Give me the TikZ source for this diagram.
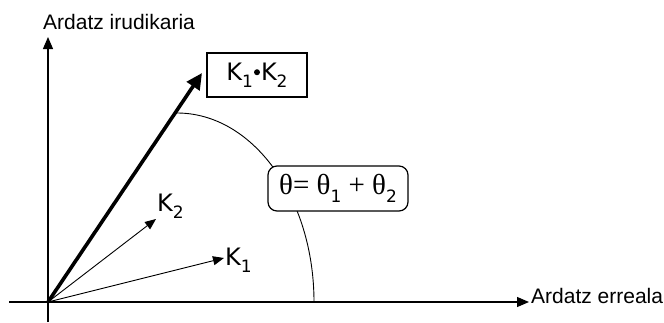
\documentclass[tikz,border=0pt]{standalone}
\usepackage{fontspec}
\setmainfont{Liberation Sans}
\newfontfamily\kfont{DejaVu Sans}
\newfontfamily\gfont{Liberation Serif}
\usetikzlibrary{arrows.meta}
\newcommand\mysub[1]{\raisebox{-0.3em}{\kfont\fontsize{17}{17}\selectfont #1}}
\newcommand\mybul{\hspace{1pt}\raisebox{0.33em}{\tikz[baseline=0pt]\fill (0,0) circle[radius=3pt];}\hspace{1pt}}
\tikzset{
  axis/.style={line width=1.2pt,-{Triangle[length=12pt,width=10pt]}},
  vec/.style={line width=0.9pt,-{Triangle[length=11pt,width=9pt]}},
  bigvec/.style={line width=3.6pt,-{Triangle[length=16pt,width=15pt]}},
  lbl/.style={inner sep=0pt,font=\fontsize{21}{21}\selectfont},
  klbl/.style={inner sep=0pt,font=\kfont\fontsize{24}{24}\selectfont},
  prodbox/.style={draw,line width=1.2pt,fill=white,minimum width=100pt,minimum height=44pt,inner sep=0pt,font=\kfont\fontsize{24}{24}\selectfont},
  angbox/.style={draw,line width=1.2pt,fill=white,rounded corners=9pt,minimum width=140pt,minimum height=45pt,inner sep=0pt,font=\gfont\fontsize{29}{29}\selectfont}
}
\begin{document}
\begin{tikzpicture}[x=1pt,y=-1pt]
\useasboundingbox (0,0) rectangle (664,322);
\coordinate (O) at (48,302);
\coordinate (ybot) at (48,322);
\coordinate (ytop) at (48,37);
\coordinate (xl) at (9,302);
\coordinate (xr) at (529,302);
\draw[axis] (ybot) -- (ytop);
\draw[axis] (xl) -- (xr);
\node[lbl,anchor=base west] (ylab) at (43,29) {Ardatz irudikaria};
\node[lbl,anchor=base west] (xlab) at (531,303) {Ardatz erreala};
% arc
\draw[line width=0.9pt] (177,113) arc[start angle=90,end angle=0,x radius=137pt,y radius=189pt] coordinate (arcend);
% vectors
\coordinate (T) at (202,73);
\coordinate (T1) at (224,258);
\coordinate (T2) at (156,219);
\draw[bigvec] (O) -- (T);
\draw[vec] (O) -- (T1);
\draw[vec] (O) -- (T2);
\node[klbl,anchor=base west] (k1) at (225,265) {K\mysub{1}};
\node[klbl,anchor=base west] (k2) at (157,211) {K\mysub{2}};
\node[prodbox] (P) at (257,75) {K\mysub{1}\mybul K\mysub{2}};
\node[angbox] (A) at (338,188.5) {θ= θ\mysub{1} + θ\mysub{2}};
\end{tikzpicture}
\end{document}
